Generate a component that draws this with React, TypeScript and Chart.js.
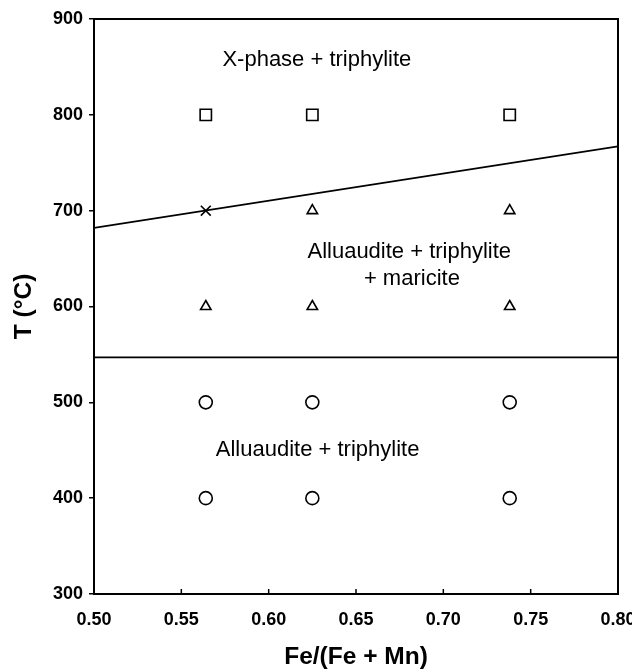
import React, { useEffect, useRef } from "react";
import { Chart, registerables } from "chart.js";

Chart.register(...registerables);

// Fe/(Fe+Mn) compositions studied
const compositions = [0.564, 0.625, 0.738];
// Temperatures (°C) of each symbol type
const squareX = [0.564, 0.625, 0.738];
const squareT = [800, 800, 800];
const crossX = [0.564];
const crossT = [700];
const triangleX = [0.625, 0.738, 0.564, 0.625, 0.738];
const triangleT = [700, 700, 600, 600, 600];
const circleX = [0.564, 0.625, 0.738, 0.564, 0.625, 0.738];
const circleT = [500, 500, 500, 400, 400, 400];

// Phase boundaries
const upperBoundaryX = [0.5, 0.8];
const upperBoundaryT = [682, 767];
const lowerBoundaryX = [0.5, 0.8];
const lowerBoundaryT = [547, 547];

// Tick values
const xTicks = [0.5, 0.55, 0.6, 0.65, 0.7, 0.75, 0.8];

// Field labels
const fieldLabels = ["X-phase + triphylite", "Alluaudite + triphylite", "+ maricite", "Alluaudite + triphylite"];
const fieldLabelX = [0.6276, 0.6805, 0.682, 0.628];
const fieldLabelT = [857, 657, 629, 450];

const FONT = '"Liberation Sans", Arial, sans-serif';

const pts = (xs: number[], ys: number[]) => xs.map((x, i) => ({ x, y: ys[i] }));

export default function App() {
  const ref = useRef<HTMLCanvasElement>(null);

  useEffect(() => {
    document.body.style.margin = "0";
    const canvas = ref.current;
    if (!canvas) return;

    const framePlugin = {
      id: "frame",
      afterDatasetsDraw(chart: any) {
        const { ctx, chartArea } = chart;
        const xs = chart.scales.x;
        const ys = chart.scales.y;
        ctx.save();
        ctx.strokeStyle = "#000";
        ctx.lineWidth = 2;
        ctx.strokeRect(chartArea.left, chartArea.top, chartArea.right - chartArea.left, chartArea.bottom - chartArea.top);
        ctx.lineWidth = 1.5;
        xTicks.forEach((v) => {
          const px = xs.getPixelForValue(v);
          ctx.beginPath();
          ctx.moveTo(px, chartArea.bottom);
          ctx.lineTo(px, chartArea.bottom - 5);
          ctx.stroke();
        });
        ctx.fillStyle = "#000";
        ctx.font = `22px ${FONT}`;
        ctx.textAlign = "center";
        ctx.textBaseline = "middle";
        fieldLabels.forEach((t, i) => {
          ctx.fillText(t, xs.getPixelForValue(fieldLabelX[i]), ys.getPixelForValue(fieldLabelT[i]));
        });
        ctx.restore();
      },
    };

    const marker = (label: string, data: any[], style: string, r: number) => ({
      type: "scatter" as const,
      label,
      data,
      pointStyle: style,
      pointRadius: r,
      pointHoverRadius: r,
      pointBorderColor: "#000",
      pointBackgroundColor: "rgba(255,255,255,0)",
      pointBorderWidth: 1.6,
      showLine: false,
    });

    const boundary = (label: string, data: any[]) => ({
      type: "line" as const,
      label,
      data,
      borderColor: "#000",
      borderWidth: 1.8,
      pointRadius: 0,
      fill: false,
    });

    const chart = new Chart(canvas, {
      type: "scatter",
      data: {
        datasets: [
          boundary("upper", pts(upperBoundaryX, upperBoundaryT)),
          boundary("lower", pts(lowerBoundaryX, lowerBoundaryT)),
          marker("X-phase", pts(squareX, squareT), "rect", 8),
          marker("cross", pts(crossX, crossT), "crossRot", 7),
          marker("maricite", pts(triangleX, triangleT), "triangle", 6),
          marker("alluaudite", pts(circleX, circleT), "circle", 6.5),
        ] as any,
      },
      options: {
        responsive: false,
        animation: false,
        layout: { padding: { top: 19, right: 14, left: 0, bottom: 0 } },
        plugins: {
          legend: { display: false },
          tooltip: { enabled: false },
        },
        scales: {
          x: {
            type: "linear",
            min: 0.5,
            max: 0.8,
            afterBuildTicks: (scale: any) => {
              scale.ticks = xTicks.map((v) => ({ value: v }));
            },
            afterFit: (scale: any) => {
              scale.height = 75;
              scale.paddingLeft = 0;
              scale.paddingRight = 0;
            },
            grid: { display: false, drawTicks: false },
            border: { display: false },
            ticks: {
              autoSkip: false,
              maxRotation: 0,
              padding: 15,
              color: "#000",
              font: { family: FONT, size: 18, weight: "bold" },
              callback: (v: any) => Number(v).toFixed(2),
            },
            title: {
              display: true,
              text: "Fe/(Fe + Mn)",
              color: "#000",
              font: { family: FONT, size: 24.5, weight: "bold", lineHeight: 1 },
              padding: { top: 0, bottom: 0 },
            },
          },
          y: {
            type: "linear",
            min: 300,
            max: 900,
            afterFit: (scale: any) => {
              scale.width = 94;
            },
            grid: { drawOnChartArea: false, drawTicks: true, tickLength: 5, color: "#000", lineWidth: 1.5 },
            border: { display: false },
            ticks: {
              stepSize: 100,
              padding: 6,
              color: "#000",
              font: { family: FONT, size: 18, weight: "bold" },
            },
            title: {
              display: true,
              text: "T (°C)",
              color: "#000",
              font: { family: FONT, size: 24.5, weight: "bold", lineHeight: 1 },
              padding: { top: 12, bottom: 0 },
            },
          },
        },
      },
      plugins: [framePlugin],
    });

    return () => chart.destroy();
  }, []);

  return (
    <div style={{ width: 632, height: 669, background: "#fff" }}>
      <canvas ref={ref} width={632} height={669} style={{ display: "block" }} />
    </div>
  );
}
